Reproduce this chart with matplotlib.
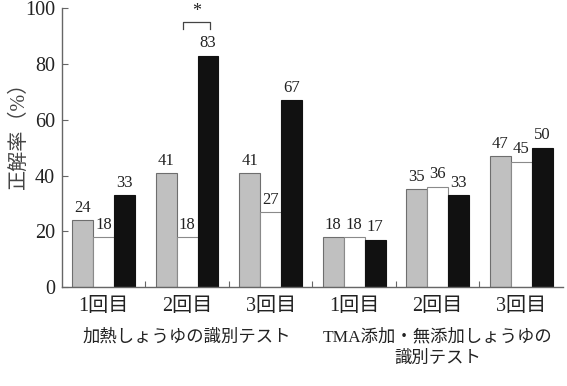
import matplotlib
matplotlib.use("Agg")
import matplotlib.pyplot as plt
import numpy as np

# data
rounds = ["1回目", "2回目", "3回目", "1回目", "2回目", "3回目"]
test_groups = ["加熱しょうゆの識別テスト", "TMA添加・無添加しょうゆの\n識別テスト"]
gray_vals = [24, 41, 41, 18, 35, 47]
white_vals = [18, 18, 27, 18, 36, 45]
black_vals = [33, 83, 67, 17, 33, 50]
yticks = [0, 20, 40, 60, 80, 100]

plt.rcParams["font.family"] = ["Liberation Serif", "Noto Sans CJK JP"]
text_color = "#222222"

fig = plt.figure(figsize=(5.67, 3.86), dpi=100)
ax = fig.add_axes([0.109, 0.2565, 0.884, 0.722])

x = np.arange(len(rounds)) + 0.5
width = 0.25
series = [
    (gray_vals, -width, "#c0c0c0", "#6e6e6e"),
    (white_vals, 0.0, "#ffffff", "#8a8a8a"),
    (black_vals, width, "#111111", "#111111"),
]
for vals, off, fc, ec in series:
    bars = ax.bar(x + off, vals, width=width, color=fc, edgecolor=ec, linewidth=0.8)
    for b, v in zip(bars, vals):
        ax.text(b.get_x() + b.get_width() / 2, v + 1.5, str(v), ha="center", va="bottom",
                fontsize=12, color=text_color)

# significance bracket between white and black bars of the 2nd round
i = 1
x0, x1 = x[i] - 0.05, x[i] + 0.27
ax.plot([x0, x0, x1, x1], [92.5, 95.2, 95.2, 92.5], color="#444444", linewidth=0.9, clip_on=False)
ax.text((x0 + x1) / 2, 95.8, "*", ha="center", va="bottom", fontsize=13, color=text_color)

ax.set_xlim(0, len(rounds))
ax.set_ylim(0, 100)
ax.set_yticks(yticks)
ax.set_yticklabels([str(t) for t in yticks], fontsize=14.5, color=text_color)
ax.set_xticks(np.arange(1, len(rounds)))
ax.set_xticklabels([])
ax.tick_params(axis="x", direction="in", length=4, color="#666666")
ax.tick_params(axis="y", direction="in", length=4, color="#666666", pad=5)
for s in ["top", "right"]:
    ax.spines[s].set_visible(False)
for s in ["left", "bottom"]:
    ax.spines[s].set_color("#666666")
    ax.spines[s].set_linewidth(1.0)

for xi, lab in zip(x, rounds):
    ax.text(xi, -3.5, lab, ha="center", va="top", fontsize=14.5,
            color=text_color, clip_on=False)
ax.text(1.5, -15, test_groups[0], ha="center", va="top", fontsize=12.5, color=text_color)
ax.text(4.5, -15, test_groups[1], ha="center", va="top", fontsize=12.5, color=text_color,
        linespacing=1.45, multialignment="center")

fig.text(19 / 567, 1 - 130 / 386, "正解率（%）", rotation=90, ha="center", va="center",
         fontsize=14.5, color="#444444")

fig.savefig("out.png", dpi=100)
